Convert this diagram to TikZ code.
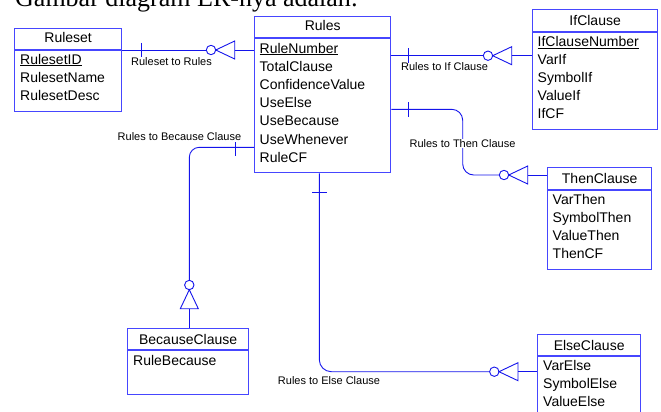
\documentclass[tikz,border=0pt]{standalone}
\usepackage{fontspec}
\setmainfont{Liberation Serif}
\setsansfont{Liberation Sans}
\usetikzlibrary{positioning}

\definecolor{boxblue}{RGB}{70,70,255}
\definecolor{linkblue}{RGB}{20,20,235}

\tikzset{
  entity/.style={draw=boxblue, line width=1.3pt, inner sep=0pt, anchor=north west},
  headline/.style={draw=boxblue, line width=1.3pt},
  link/.style={draw=linkblue, line width=0.9pt},
  enttitle/.style={anchor=base, inner sep=0pt, font=\sffamily\fontsize{14}{16}\selectfont},
  attr/.style={anchor=base west, inner sep=0pt, font=\sffamily\fontsize{14}{16}\selectfont},
  linklabel/.style={inner sep=0.5pt, font=\sffamily\fontsize{11}{13}\selectfont},
  zeromany/.pic={
    \draw[link] (0,0) circle (4.7);
    \draw[link, line join=miter] (4.7,0) -- (23.7,-9) -- (23.7,9) -- cycle;
  }
}

\begin{document}
\begin{tikzpicture}[x=1pt, y=-1pt]

\clip (0,0) rectangle (661,412);

\node[anchor=base west, inner sep=0pt, font=\rmfamily\fontsize{26}{30}\selectfont] (caption) at (15,6.5) {Gambar diagram ER-nya adalah:};

% entities
\node[entity, minimum width=107, minimum height=83] (ruleset) at (14,28) {};
\draw[headline] (ruleset.west |- 0,50) -- (ruleset.east |- 0,50);
\node[enttitle] at (ruleset.north |- 0,43) {Ruleset};
\node[attr] at (20,64) {\underline{RulesetID}};
\node[attr] at (20,82.2) {RulesetName};
\node[attr] at (20,100.4) {RulesetDesc};

\node[entity, minimum width=136, minimum height=156] (rules) at (254,16) {};
\draw[headline] (rules.west |- 0,38) -- (rules.east |- 0,38);
\node[enttitle] at (rules.north |- 0,31) {Rules};
\node[attr] at (259.5,53) {\underline{RuleNumber}};
\node[attr] at (259.5,71.2) {TotalClause};
\node[attr] at (259.5,89.4) {ConfidenceValue};
\node[attr] at (259.5,107.6) {UseElse};
\node[attr] at (259.5,125.8) {UseBecause};
\node[attr] at (259.5,144) {UseWhenever};
\node[attr] at (259.5,162.2) {RuleCF};

\node[entity, minimum width=125, minimum height=120] (ifclause) at (532,9) {};
\draw[headline] (ifclause.west |- 0,32) -- (ifclause.east |- 0,32);
\node[enttitle] at (ifclause.north |- 0,25.7) {IfClause};
\node[attr] at (537.5,46.5) {\underline{IfClauseNumber}};
\node[attr] at (537.5,64.5) {VarIf};
\node[attr] at (537.5,82.5) {SymbolIf};
\node[attr] at (537.5,100.5) {ValueIf};
\node[attr] at (537.5,118.5) {IfCF};

\node[entity, minimum width=104, minimum height=102] (thenclause) at (547,167) {};
\draw[headline] (thenclause.west |- 0,190) -- (thenclause.east |- 0,190);
\node[enttitle] at (thenclause.north |- 0,183) {ThenClause};
\node[attr] at (552.5,204.3) {VarThen};
\node[attr] at (552.5,222.3) {SymbolThen};
\node[attr] at (552.5,240.3) {ValueThen};
\node[attr] at (552.5,258.3) {ThenCF};

\node[entity, minimum width=103, minimum height=100] (elseclause) at (537,334) {};
\draw[headline] (elseclause.west |- 0,356) -- (elseclause.east |- 0,356);
\node[enttitle] at (elseclause.north |- 0,350) {ElseClause};
\node[attr] at (543,370) {VarElse};
\node[attr] at (543,388.3) {SymbolElse};
\node[attr] at (543,406.7) {ValueElse};

\node[entity, minimum width=121, minimum height=66] (becauseclause) at (127,328) {};
\draw[headline] (becauseclause.west |- 0,350) -- (becauseclause.east |- 0,350);
\node[enttitle] at (becauseclause.north |- 0,344) {BecauseClause};
\node[attr] at (133,365) {RuleBecause};

% relationships
\draw[link] (ruleset.east |- 0,50) -- (206.3,50);
\pic at (211,50) {zeromany};
\draw[link] (234.7,50) -- (rules.west |- 0,50);
\draw[link] (141,43) -- (141,57);

\draw[link] (rules.east |- 0,55.7) -- (483.3,55.7);
\pic at (488,55.7) {zeromany};
\draw[link] (511.7,55.7) -- (ifclause.west |- 0,55.7);
\draw[link] (408,48.5) -- (408,63);

\draw[link, rounded corners=11] (rules.east |- 0,109.3) -| (462.7,175) -- (499.3,175);
\pic at (504,175) {zeromany};
\draw[link] (527.7,175) -- (thenclause.west |- 0,175);
\draw[link] (408,102) -- (408,117);

\draw[link, rounded corners=10] (rules.west |- 0,147.3) -| (189.3,280.3);
\pic[rotate=-90] at (189.3,285) {zeromany};
\draw[link] (189.3,308.7) -- (becauseclause.north -| 189.3,0);
\draw[link] (235,142) -- (235,156);

\draw[link, rounded corners=12] (rules.south -| 319.3,0) |- (489.6,371.7);
\pic at (494.3,371.7) {zeromany};
\draw[link] (518,371.7) -- (elseclause.west |- 0,371.7);
\draw[link] (312,192.3) -- (327,192.3);

% relationship names
\node[linklabel] (rsrules) at (171.5,62) {Ruleset to Rules};
\node[linklabel] (rulesif) at (444.5,67) {Rules to If Clause};
\node[linklabel, fill=white] (rulesthen) at (462.5,143.3) {Rules to Then Clause};
\node[linklabel] (rulesbecause) at (179.5,137) {Rules to Because Clause};
\node[linklabel] (ruleselse) at (329,381) {Rules to Else Clause};

\end{tikzpicture}
\end{document}
